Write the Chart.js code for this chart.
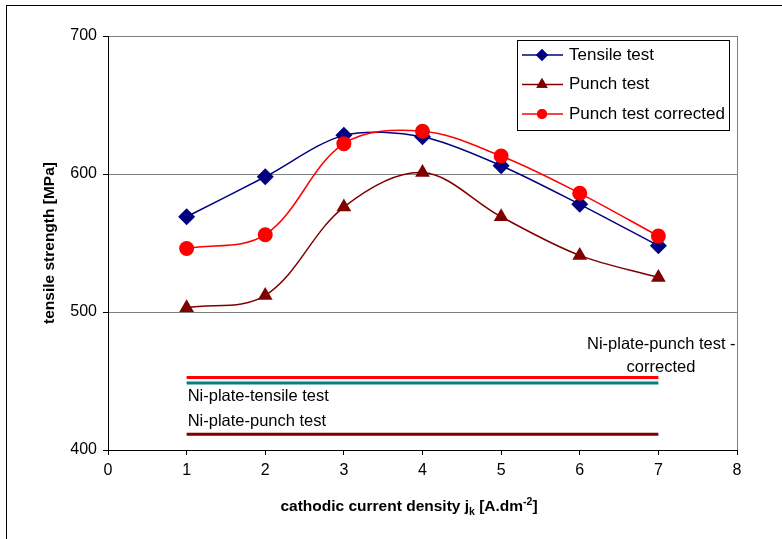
<!DOCTYPE html>
<html><head><meta charset="utf-8">
<script src="https://cdn.jsdelivr.net/npm/chart.js@4/dist/chart.umd.min.js"></script>
<style>html,body{margin:0;padding:0;background:#fff}#wrap{width:782px;height:539px;position:relative}</style>
</head><body><div id="wrap"><canvas id="c" width="782" height="539"></canvas></div>
<script>
const xValues = [1, 2, 3, 4, 5, 6, 7];
const tensileTest = [569, 598, 628, 627, 606, 578, 548];
const punchTest = [503, 512, 576, 601, 569, 541, 525];
const punchTestCorrected = [546, 556, 622, 631, 613, 586, 555];
const niPlateRange = [1, 7];
const niPlatePunchCorrected = 452.5;
const niPlateTensile = 448.5;
const niPlatePunch = 411.5;
const seriesNames = ['Tensile test', 'Punch test', 'Punch test corrected'];
const yTicks = [400, 500, 600, 700];
const xTicks = [0, 1, 2, 3, 4, 5, 6, 7, 8];

const FONT = '"Liberation Sans", Arial, sans-serif';
const pts = (xs, ys) => xs.map((x, i) => ({x, y: ys[i]}));
const hline = (v) => niPlateRange.map(x => ({x, y: v}));

const datasets = [
  {label: 'Ni-plate-punch test - corrected', data: hline(niPlatePunchCorrected), borderColor: '#FF0000', borderWidth: 3, pointRadius: 0, tension: 0, order: 5},
  {label: 'Ni-plate-tensile test', data: hline(niPlateTensile), borderColor: '#008080', borderWidth: 3, pointRadius: 0, tension: 0, order: 6},
  {label: 'Ni-plate-punch test', data: hline(niPlatePunch), borderColor: '#800000', borderWidth: 3, pointRadius: 0, tension: 0, order: 7},
  {label: seriesNames[0], data: pts(xValues, tensileTest), borderColor: '#000080', backgroundColor: '#000080', borderWidth: 1.5, pointStyle: 'rectRot', pointRadius: 8.5, pointBorderWidth: 0, tension: 0.3, order: 3},
  {label: seriesNames[1], data: pts(xValues, punchTest), borderColor: '#800000', backgroundColor: '#800000', borderWidth: 1.5, pointStyle: 'triangle', pointRadius: 8.5, pointBorderWidth: 0, tension: 0.35, order: 2},
  {label: seriesNames[2], data: pts(xValues, punchTestCorrected), borderColor: '#FF0000', backgroundColor: '#FF0000', borderWidth: 1.5, pointStyle: 'circle', pointRadius: 7.5, pointBorderWidth: 0, tension: 0.35, order: 1}
];

const decor = {
  id: 'decor',
  beforeDraw(chart) {
    const ctx = chart.ctx;
    ctx.save();
    ctx.fillStyle = '#fff';
    ctx.fillRect(0, 0, chart.width, chart.height);
    ctx.strokeStyle = '#000';
    ctx.lineWidth = 1;
    ctx.strokeRect(6.5, 5.5, 900, 700);
    ctx.restore();
  },
  afterDatasetsDraw(chart) {
    const ctx = chart.ctx;
    const a = chart.chartArea;
    const xs = chart.scales.x;
    ctx.save();
    // right border of plot area
    ctx.strokeStyle = '#808080';
    ctx.lineWidth = 1;
    ctx.beginPath();
    ctx.moveTo(Math.round(a.right) + 0.5, a.top);
    ctx.lineTo(Math.round(a.right) + 0.5, a.bottom);
    ctx.stroke();

    // annotations
    ctx.fillStyle = '#000';
    ctx.font = '16.5px ' + FONT;
    ctx.textBaseline = 'middle';
    ctx.textAlign = 'left';
    ctx.fillText('Ni-plate-punch test -', 587, 344);
    ctx.textAlign = 'center';
    ctx.fillText('corrected', 661, 367);
    ctx.textAlign = 'left';
    ctx.fillText('Ni-plate-tensile test', xs.getPixelForValue(1) + 1, 396);
    ctx.fillText('Ni-plate-punch test', xs.getPixelForValue(1) + 1, 421);

    // legend
    const lx = 517.5, ly = 40.5, lw = 212, lh = 90;
    ctx.fillStyle = '#fff';
    ctx.fillRect(lx, ly, lw, lh);
    ctx.strokeStyle = '#000';
    ctx.lineWidth = 1;
    ctx.strokeRect(lx, ly, lw, lh);
    const rows = [
      {name: seriesNames[0], color: '#000080', style: 'rectRot', r: 6},
      {name: seriesNames[1], color: '#800000', style: 'triangle', r: 6.5},
      {name: seriesNames[2], color: '#FF0000', style: 'circle', r: 5}
    ];
    rows.forEach((row, i) => {
      const y = 55 + i * 29.5;
      ctx.strokeStyle = row.color;
      ctx.lineWidth = 1.5;
      ctx.beginPath();
      ctx.moveTo(522, y); ctx.lineTo(563, y); ctx.stroke();
      ctx.fillStyle = row.color;
      Chart.helpers.drawPoint(ctx, {pointStyle: row.style, radius: row.r, rotation: 0, borderWidth: 0}, 542, y);
      ctx.fill();
      ctx.fillStyle = '#000';
      ctx.font = '17px ' + FONT;
      ctx.textAlign = 'left';
      ctx.textBaseline = 'middle';
      ctx.fillText(row.name, 569, y);
    });

    // axis titles
    ctx.fillStyle = '#000';
    ctx.font = 'bold 15.5px ' + FONT;
    ctx.save();
    ctx.translate(50, (a.top + a.bottom) / 2);
    ctx.rotate(-Math.PI / 2);
    ctx.textAlign = 'center';
    ctx.textBaseline = 'middle';
    ctx.fillText('tensile strength [MPa]', 0, 0);
    ctx.restore();

    const parts = [
      {t: 'cathodic current density j', f: 'bold 15.5px ' + FONT, dy: 0},
      {t: 'k', f: 'bold 10.5px ' + FONT, dy: 5},
      {t: ' [A.dm', f: 'bold 15.5px ' + FONT, dy: 0},
      {t: '-2', f: 'bold 10.5px ' + FONT, dy: -5},
      {t: ']', f: 'bold 15.5px ' + FONT, dy: 0}
    ];
    let total = 0;
    parts.forEach(p => { ctx.font = p.f; p.w = ctx.measureText(p.t).width; total += p.w; });
    let x = 409 - total / 2;
    ctx.textAlign = 'left';
    ctx.textBaseline = 'middle';
    parts.forEach(p => { ctx.font = p.f; ctx.fillText(p.t, x, 507 + p.dy); x += p.w; });
    ctx.restore();
  }
};

new Chart(document.getElementById('c'), {
  type: 'line',
  data: {datasets},
  options: {
    responsive: false,
    animation: false,
    devicePixelRatio: 1,
    layout: {padding: {left: 0, top: 36, right: 45, bottom: 0}},
    plugins: {legend: {display: false}, tooltip: {enabled: false}},
    scales: {
      x: {
        type: 'linear', min: 0, max: 8,
        afterFit(s) { s.height = 89; },
        afterBuildTicks(s) { s.ticks = xTicks.map(v => ({value: v})); },
        grid: {drawOnChartArea: false, color: '#000', tickLength: 5, tickColor: '#000'},
        border: {color: '#000', width: 1},
        ticks: {color: '#000', font: {family: FONT, size: 16}, padding: 6, maxRotation: 0}
      },
      y: {
        type: 'linear', min: 400, max: 700,
        afterFit(s) { s.width = 108; },
        afterBuildTicks(s) { s.ticks = yTicks.map(v => ({value: v})); },
        grid: {color: '#808080', tickColor: '#000', tickLength: 5},
        border: {color: '#000', width: 1},
        ticks: {color: '#000', font: {family: FONT, size: 16}, padding: 6}
      }
    }
  },
  plugins: [decor]
});
</script></body></html>
